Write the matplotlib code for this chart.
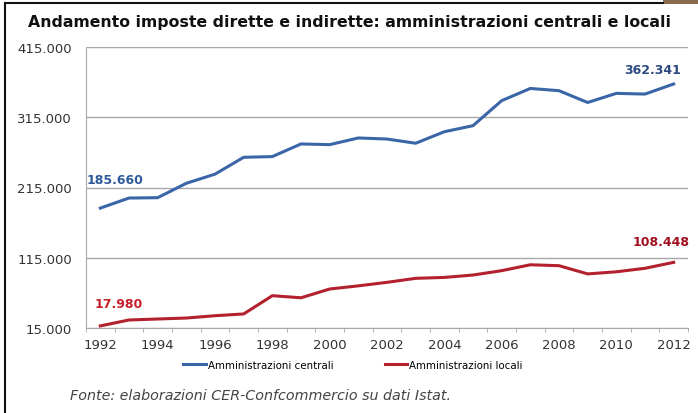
import matplotlib
matplotlib.use("Agg")
import matplotlib.pyplot as plt
from matplotlib.lines import Line2D
from matplotlib.patches import Rectangle
from matplotlib.ticker import FuncFormatter, FixedLocator

years = list(range(1992, 2013))
centrali = [185660, 200000, 200500, 221000, 234000, 258000, 259000, 277000, 276000,
            285500, 284000, 278000, 294400, 303000, 338600, 356000, 352800, 336000,
            349000, 348000, 362341]
locali = [17980, 26400, 27800, 29200, 32500, 35000, 61000, 58000, 70500, 75000,
          80000, 85700, 87000, 90400, 96600, 105000, 103700, 92000, 95000, 100000,
          108448]
yticks = [15000, 115000, 215000, 315000, 415000]
title = "Andamento imposte dirette e indirette: amministrazioni centrali e locali"
source = "Fonte: elaborazioni CER-Confcommercio su dati Istat."
labels = ["Amministrazioni centrali", "Amministrazioni locali"]

W, H = 698, 414
fig = plt.figure(figsize=(W / 100, H / 100), dpi=100)
ax = fig.add_axes([86 / W, 1 - 329 / H, (688 - 86) / W, (329 - 48) / H])

x = list(range(len(years)))
c_col = "#3a66a8"
l_col = "#b3202e"
ax.plot(x, centrali, color=c_col, lw=2.2, label=labels[0], solid_joinstyle="round")
ax.plot(x, locali, color=l_col, lw=2.2, label=labels[1], solid_joinstyle="round")

ax.set_xlim(-0.5, len(years) - 0.5)
ax.set_ylim(yticks[0], yticks[-1])
ax.yaxis.set_major_locator(FixedLocator(yticks))
ax.yaxis.set_major_formatter(FuncFormatter(lambda v, p: f"{int(v):,}".replace(",", ".")))
ax.set_xticks(x[::2])
ax.set_xticklabels([str(y) for y in years[::2]])
ax.set_xticks([i - 0.5 for i in range(len(years) + 1)], minor=True)

ax.grid(axis="y", color="#a8a8a8", lw=1.0)
ax.set_axisbelow(True)
for s in ["top", "right"]:
    ax.spines[s].set_visible(False)
ax.spines["left"].set_color("#a8a8a8")
ax.spines["bottom"].set_color("#a8a8a8")
ax.tick_params(axis="y", length=0, pad=10, labelsize=9.5, labelcolor="#333333")
ax.tick_params(axis="x", which="major", length=0, pad=7, labelsize=9.5, labelcolor="#333333")
ax.tick_params(axis="x", which="minor", length=3, color="#a8a8a8")

ann = dict(textcoords="offset pixels", fontsize=9, fontweight="bold", ha="center", va="center")
ax.annotate(f"{centrali[0]:,}".replace(",", "."), (x[0], centrali[0]), xytext=(15, 29), color="#2e5a9c", **ann)
ax.annotate(f"{centrali[-1]:,}".replace(",", "."), (x[-1], centrali[-1]), xytext=(-21, 14), color="#2b4a80", **ann)
ax.annotate(f"{locali[0]:,}".replace(",", "."), (x[0], locali[0]), xytext=(18, 22), color="#c8202a", **ann)
ax.annotate(f"{locali[-1]:,}".replace(",", "."), (x[-1], locali[-1]), xytext=(-13, 21), color="#a01020", **ann)

fig.legend(loc="center", bbox_to_anchor=(353 / W, 1 - 366 / H), ncol=2, frameon=False,
           fontsize=7.4, handlelength=2.2, handletextpad=0.2, columnspacing=5.0)

fig.text(350 / W, 1 - 23 / H, title, ha="center", va="center", fontsize=11.3,
         fontweight="bold", color="#111111")
fig.text(70 / W, 1 - 396 / H, source, ha="left", va="center", fontsize=10.3,
         style="italic", color="#444444")

fig.add_artist(Line2D([5 / W, 5 / W], [0, 1 - 4 / H], color="#111111", lw=1.5))
fig.add_artist(Line2D([5 / W, 663 / W], [1 - 4 / H, 1 - 4 / H], color="#111111", lw=1.5))
fig.add_artist(Rectangle((663 / W, 1 - 5 / H), 35 / W, 5 / H, color="#8a6a4e", lw=0))

fig.savefig("out.png", dpi=100)
